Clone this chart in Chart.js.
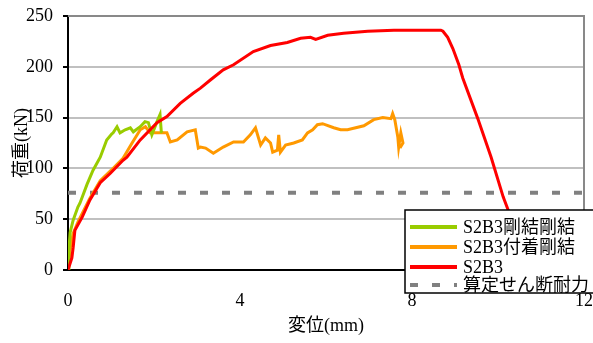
<!DOCTYPE html>
<html><head><meta charset="utf-8">
<script src="https://cdn.jsdelivr.net/npm/chart.js@4.4.0/dist/chart.umd.min.js"></script>
<style>html,body{margin:0;padding:0;background:#fff;}#wrap{width:593px;height:343px;position:relative}</style>
</head><body><div id="wrap"><canvas id="c" width="593" height="343"></canvas></div>
<script>
const seriesLabels = ['S2B3剛結剛結', 'S2B3付着剛結', 'S2B3', '算定せん断耐力'];
const xTitle = '変位(mm)';
const yTitle = '荷重(kN)';

const greenX = [0, 0.02, 0.05, 0.12, 0.23, 0.28, 0.44, 0.58, 0.75, 0.9, 1.02, 1.05, 1.14, 1.21, 1.33, 1.45, 1.52, 1.68, 1.79, 1.87, 1.95, 2.07, 2.14, 2.17, 2.19];
const greenY = [0, 20, 37, 49, 62, 66, 84, 98, 111, 128, 134, 135, 141, 135, 138, 140, 136, 141, 146, 145, 133, 146, 153, 136, 135];

const orangeX = [0, 0.05, 0.12, 0.23, 0.5, 0.75, 1.0, 1.28, 1.49, 1.68, 1.8, 1.91, 2.14, 2.3, 2.38, 2.54, 2.77, 2.96, 3.03, 3.08, 3.2, 3.38, 3.61, 3.85, 4.08, 4.24, 4.36, 4.48, 4.59, 4.71, 4.76, 4.87, 4.9, 4.94, 5.06, 5.25, 5.45, 5.57, 5.69, 5.8, 5.92, 6.18, 6.34, 6.5, 6.88, 7.11, 7.32, 7.51, 7.55, 7.6, 7.67, 7.69, 7.74, 7.79, 7.72];
const orangeY = [0, 20, 36, 47, 70, 88, 98, 110, 125, 138, 141, 135, 135, 135, 126, 128, 136, 138, 120, 121, 120, 115, 121, 126, 126, 133, 140, 123, 130, 125, 116, 118, 133, 116, 123, 125, 128, 135, 138, 143, 144, 140, 138, 138, 142, 148, 150, 149, 154, 148, 131, 121, 135, 125, 120];

const redX = [0, 0.09, 0.12, 0.16, 0.33, 0.51, 0.75, 0.98, 1.28, 1.37, 1.68, 2.07, 2.3, 2.61, 2.91, 3.08, 3.31, 3.61, 3.85, 4.31, 4.71, 5.1, 5.41, 5.64, 5.76, 6.04, 6.41, 6.97, 7.58, 8.67, 8.72, 8.83, 8.95, 9.09, 9.18, 9.53, 9.84, 10.12, 10.45];
const redY = [0, 12, 22, 39, 52, 69, 86, 95, 108, 111, 128, 145, 151, 164, 174, 179, 187, 197, 202, 215, 221, 224, 228, 229, 227, 231, 233, 235, 236, 236, 235, 229, 218, 202, 189, 149, 111, 72, 35];

const limitX = [0, 12];
const limitY = [76, 76];

const xTicks = [0, 4, 8, 12];
const yTicks = [0, 50, 100, 150, 200, 250];

const colors = ['#99cc00', '#ff9900', '#ff0000', '#808080'];
const FONT = '"Liberation Serif", "Times New Roman", "Noto Sans CJK JP", serif';

function pts(xs, ys) { return xs.map((x, i) => ({ x: x, y: ys[i] })); }

const framePlugin = {
  id: 'frame',
  beforeDatasetsDraw(chart) {
    const { ctx, chartArea: a } = chart;
    ctx.save();
    ctx.strokeStyle = '#898989';
    ctx.lineWidth = 2;
    ctx.beginPath();
    ctx.moveTo(a.left, a.top);
    ctx.lineTo(a.right, a.top);
    ctx.lineTo(a.right, a.bottom);
    ctx.stroke();
    ctx.restore();
  }
};

const legendPlugin = {
  id: 'customLegend',
  afterDraw(chart) {
    const { ctx } = chart;
    const lx = 405, ly = 210, lw = 200, lh = 83;
    ctx.save();
    ctx.fillStyle = '#fff';
    ctx.fillRect(lx, ly, lw, lh);
    ctx.strokeStyle = '#000';
    ctx.lineWidth = 1.5;
    ctx.strokeRect(lx, ly, lw, lh);
    const rows = [227, 247, 267, 285];
    chart.data.datasets.forEach((ds, i) => {
      const y = rows[i];
      ctx.strokeStyle = ds.borderColor;
      ctx.lineWidth = 4;
      ctx.setLineDash(ds.borderDash || []);
      ctx.beginPath();
      ctx.moveTo(410, y);
      ctx.lineTo(457, y);
      ctx.stroke();
      ctx.setLineDash([]);
      ctx.fillStyle = '#000';
      ctx.font = '18px ' + FONT;
      ctx.textBaseline = 'middle';
      ctx.textAlign = 'left';
      ctx.fillText(ds.label, 463, y + 1);
    });
    ctx.restore();
  }
};

new Chart(document.getElementById('c'), {
  type: 'line',
  data: {
    datasets: [
      { label: seriesLabels[0], data: pts(greenX, greenY), borderColor: colors[0], borderWidth: 3, order: 2 },
      { label: seriesLabels[1], data: pts(orangeX, orangeY), borderColor: colors[1], borderWidth: 3, order: 3 },
      { label: seriesLabels[2], data: pts(redX, redY), borderColor: colors[2], borderWidth: 3, order: 1 },
      { label: seriesLabels[3], data: pts(limitX, limitY), borderColor: colors[3], borderWidth: 4, borderDash: [8, 14], order: 4 }
    ]
  },
  options: {
    responsive: false,
    animation: false,
    devicePixelRatio: 1,
    layout: { padding: { top: 16, right: 9, left: 0, bottom: 0 } },
    plugins: { legend: { display: false }, tooltip: { enabled: false } },
    elements: { point: { radius: 0 }, line: { tension: 0, fill: false } },
    scales: {
      x: {
        type: 'linear', min: 0, max: 12,
        afterBuildTicks(s) { s.ticks = xTicks.map(v => ({ value: v })); },
        ticks: { font: { size: 18, family: FONT }, color: '#000', padding: 12, maxRotation: 0 },
        grid: { display: false },
        border: { color: '#000', width: 2 },
        title: { display: true, text: xTitle, font: { size: 18, family: FONT }, color: '#000', padding: { top: 0, bottom: 6 } },
        afterFit(s) { s.height = 73; s.paddingLeft = 0; s.paddingRight = 0; }
      },
      y: {
        type: 'linear', min: 0, max: 250,
        afterBuildTicks(s) { s.ticks = yTicks.map(v => ({ value: v })); },
        ticks: { font: { size: 18, family: FONT }, color: '#000', padding: 10 },
        grid: {
          color: c => (c.tick && c.tick.value === 0) ? 'rgba(0,0,0,0)' : '#c0c0c0',
          lineWidth: 2, tickColor: '#000', tickLength: 5
        },
        border: { color: '#000', width: 2 },
        title: { display: true, text: yTitle, font: { size: 18, family: FONT }, color: '#000', padding: { top: 11, bottom: 0 } },
        afterFit(s) { s.width = 68; s.paddingTop = 0; s.paddingBottom = 0; }
      }
    }
  },
  plugins: [framePlugin, legendPlugin]
});
</script>
</body></html>
